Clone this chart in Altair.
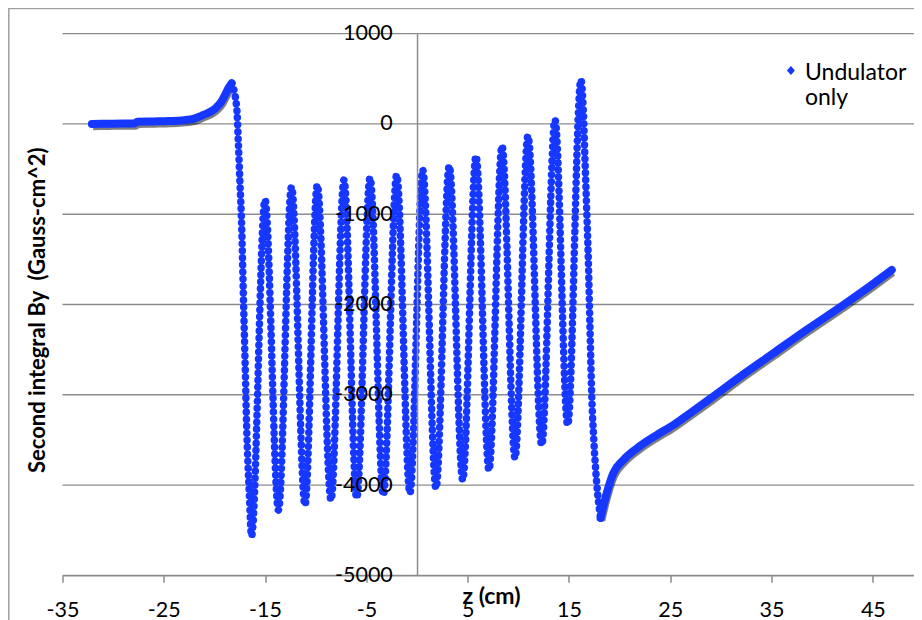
import altair as alt
import pandas as pd

# ---- data ----
Z = [-32.1, -30.5, -29.0, -27.9, -27.6, -26.0, -24.5, -23.0, -22.0, -21.1, -20.4, -19.8, -19.3, -18.96, -18.6, -18.3,
     -17.8, -17.64, -17.48, -17.31, -17.15, -16.98, -16.82, -16.56,
     -16.34, -15.01, -13.68, -12.39, -11.06, -9.85, -8.49, -7.21, -5.96, -4.64, -3.33, -2.01, -0.70, 0.56,
     1.87, 3.18, 4.51, 5.82, 7.10, 8.39, 9.67, 10.95, 12.31, 13.62, 14.87, 16.18,
     16.41, 16.58, 16.75, 16.91, 17.07, 17.24, 17.47, 17.74,
     18.12, 18.72, 19.37, 20.36, 22.01, 23.66, 25.3, 26.95, 28.92, 31.88, 35.17, 38.46, 42.08, 45.04, 46.86]
BY = [0, 3, 5, 5, 25, 28, 32, 42, 60, 100, 135, 185, 250, 321, 400, 450,
      180, -214, -657, -1138, -1876, -2615, -3354, -4092,
      -4565, -842, -4277, -698, -4221, -676, -4166, -620, -4144, -598, -4111, -565, -4089, -510,
      -4033, -465, -3944, -355, -3834, -244, -3701, -133, -3557, 44, -3335, 488,
      155, -399, -953, -1507, -2246, -2984, -3538, -3981,
      -4365, -4092, -3870, -3723, -3568, -3446, -3335, -3204, -3045, -2800, -2540, -2280, -2005, -1770, -1618]
Y_TICKS = [-5000, -4000, -3000, -2000, -1000, 0, 1000]
X_TICKS = [-35, -25, -15, -5, 5, 15, 25, 35, 45]
SERIES = "Undulator only"
X_TITLE = "z (cm)"
Y_TITLE = "Second integral By\u00a0 (Gauss-cm^2)"

# ---- layout / style ----
X_MIN, X_MAX = -35, 49.06
Y_MIN, Y_MAX = -5000, 1000
W, H = 851.5, 541.6
PAD = {"left": 54.5, "top": 25.7, "right": 0, "bottom": 44.7}
Z_BUMP, Z_TROUGH = -18.3, 18.12
BLUE = "#1537ff"
GRID = "#8c8c8c"
FONT = "Lato"

df = pd.DataFrame({"z": Z, "by": BY})
df["series"] = SERIES

xs = alt.Scale(domain=[X_MIN, X_MAX], nice=False, zero=False)
ys = alt.Scale(domain=[Y_MIN, Y_MAX], nice=False, zero=False)
y_axis_pos = (0 - X_MIN) / (X_MAX - X_MIN) * W

x_axis = alt.Axis(values=X_TICKS, labelExpr="'' + datum.value", grid=False, domainColor=GRID,
                  domainWidth=1.5, tickColor=GRID, tickWidth=1.5, tickSize=7, labelFont=FONT,
                  labelFontSize=21.5, labelColor="#000", labelPadding=17, labelFlush=False,
                  labelOverlap=False,
                  title=X_TITLE, titleFont=FONT, titleFontSize=23, titleFontWeight="bold",
                  titleColor="#000", titleX=428.5, titleY=27.7, titleBaseline="alphabetic",
                  titleAlign="center", zindex=1)
y_axis = alt.Axis(values=Y_TICKS, labelExpr="'' + datum.value", grid=False, ticks=False,
                  tickSize=0, offset=-y_axis_pos, domainColor=GRID, domainWidth=1.5,
                  labelFont=FONT, labelFontSize=21.5, labelColor="#000", labelPadding=24.7,
                  labelFlush=False, labelOverlap=False,
                  title=Y_TITLE, titleFont=FONT, titleFontSize=22, titleFontWeight="bold",
                  titleColor="#000", titleAngle=270, titleX=-380, titleY=276,
                  titleBaseline="middle", titleAlign="center", zindex=1)

X_ENC = dict(scale=xs, axis=x_axis)
Y_ENC = dict(scale=ys, axis=y_axis)

grid = alt.Chart(pd.DataFrame({"v": Y_TICKS})).mark_rule(color=GRID, strokeWidth=1.3).encode(
    y=alt.Y("v:Q", **Y_ENC))

base = alt.Chart(df)
shadow = base.transform_filter(
    f"datum.z <= {Z_BUMP} || datum.z >= {Z_TROUGH}"
).transform_calculate(
    seg=f"datum.z <= {Z_BUMP} ? 'a' : 'c'", sz="datum.z + 0.12", sy="datum.by - 30"
).mark_line(color="#000", opacity=0.5, strokeWidth=7, interpolate="monotone").encode(
    x=alt.X("sz:Q", **X_ENC), y=alt.Y("sy:Q", **Y_ENC), detail="seg:N")

solid_a = base.transform_filter(f"datum.z <= {Z_BUMP}").mark_line(
    color=BLUE, strokeWidth=8, strokeCap="round", interpolate="monotone").encode(
    x=alt.X("z:Q", **X_ENC), y=alt.Y("by:Q", **Y_ENC))
solid_c = base.transform_filter(f"datum.z >= {Z_TROUGH}").mark_line(
    color=BLUE, strokeWidth=8, strokeCap="round", interpolate="monotone").encode(
    x=alt.X("z:Q", **X_ENC), y=alt.Y("by:Q", **Y_ENC))

legend = alt.Legend(title=None, orient="none", legendX=716.9, legendY=17, padding=0,
                    symbolType="M0,0.78L0.8,1.68L0,2.58L-0.8,1.68Z", symbolSize=100,
                    symbolFillColor=BLUE, symbolStrokeColor=BLUE, symbolStrokeWidth=0,
                    symbolOpacity=1, labelFont=FONT, labelFontSize=23, labelColor="#000",
                    labelExpr="split(datum.label, ' ')", labelBaseline="top", labelOffset=2.6,
                    labelLimit=400)
dotted = base.transform_filter(f"datum.z >= {Z_BUMP} && datum.z <= {Z_TROUGH}").mark_line(
    strokeWidth=7.5, strokeCap="round", strokeDash=[0.01, 7], interpolate="monotone").encode(
    x=alt.X("z:Q", **X_ENC),
    y=alt.Y("by:Q", **Y_ENC),
    color=alt.Color("series:N", scale=alt.Scale(range=[BLUE]), legend=legend))

frame_df = pd.DataFrame({"a": [0]})
top_border = alt.Chart(frame_df).mark_rule(color="#a0a0a0", strokeWidth=1.5).encode(
    x=alt.value(-PAD["left"]), x2=alt.value(W), y=alt.value(-PAD["top"] + 0.5))
left_border = alt.Chart(frame_df).mark_rule(color="#a0a0a0", strokeWidth=1.5).encode(
    x=alt.value(-PAD["left"] + 0.8), y=alt.value(-PAD["top"]), y2=alt.value(H + PAD["bottom"]))

chart = alt.layer(grid, top_border, left_border, shadow, solid_a, solid_c, dotted).properties(
    width=W, height=H, autosize=alt.AutoSizeParams(type="none"), padding=PAD,
    background="white"
).configure_view(stroke=None)

chart.save("out.html", embed_options={"renderer": "svg", "actions": False})
